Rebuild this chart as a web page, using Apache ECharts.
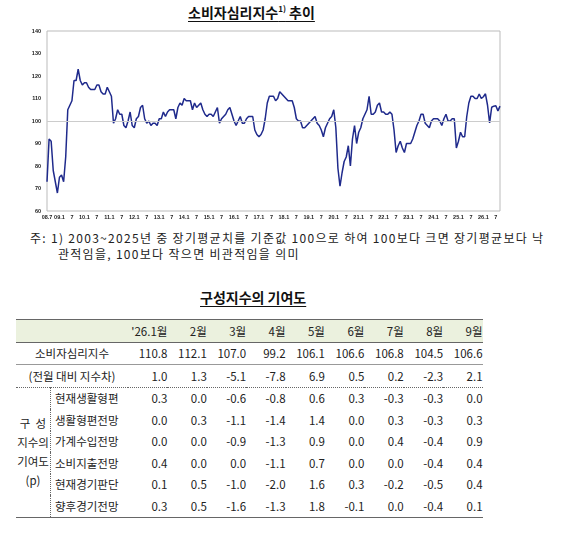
<!DOCTYPE html>
<html><head><meta charset="utf-8">
<script src="https://cdn.jsdelivr.net/npm/echarts@6/dist/echarts.min.js"></script>
<style>
body{margin:0;width:562px;height:544px;background:#fff;font-family:"Noto Sans CJK KR",sans-serif;position:relative;overflow:hidden}
#chart{position:absolute;left:0;top:0;width:562px;height:225px}
.t{position:absolute;font-weight:bold;text-decoration:underline;text-underline-offset:3px;font-size:14px;color:#111}
#note{position:absolute;left:30px;top:230px;font-size:12px;letter-spacing:1.3px;line-height:16px;color:#222;white-space:nowrap}
table{position:absolute;left:16px;top:319px;border-collapse:collapse;font-size:11.5px;color:#222}
td{height:21.5px;padding:0;text-align:right;width:39.4px}
td.l{text-align:center;width:111px}
td.s{text-align:left;padding-left:4px;width:73px}
td.g{width:34px;text-align:center;line-height:19px;border-right:1px dotted #666}
</style></head><body>
<div class="t" style="left:188px;top:2px">소비자심리지수<sup style="font-size:8px">1)</sup> 추이</div>
<div id="chart"></div>
<div id="note">주: 1) 2003~2025년 중 장기평균치를 기준값 100으로 하여 100보다 크면 장기평균보다 낙<br>&nbsp;&nbsp;&nbsp;&nbsp;&nbsp;&nbsp;&nbsp;관적임을, 100보다 작으면 비관적임을 의미</div>
<div class="t" style="left:200px;top:287px">구성지수의 기여도</div>
<table id="tbl"></table>
<script>
// monthly index, 2008.7 .. 2026.9
const values = [
  73, 92, 91, 78, 73, 68,
  75, 76, 73, 84, 105, 107, 109, 118, 118, 123, 118, 116,
  117, 117, 115, 114, 114, 114, 116, 116, 113, 112, 112, 115,
  113, 111, 99, 101, 105, 103, 103, 98, 97, 100, 104, 98,
  97, 101, 102, 106, 107, 101, 99, 100, 98, 99, 99, 98,
  101, 101, 104, 102, 104, 105, 105, 105, 101, 106, 108, 107,
  110, 109, 109, 109, 105, 108, 106, 107, 108, 105, 103, 102,
  103, 103, 102, 104, 106, 99, 101, 102, 103, 105, 106, 103,
  100, 98, 100, 102, 99, 99, 101, 102, 102, 102, 96, 94,
  93, 94, 96, 101, 108, 111, 111, 111, 109, 110, 113, 112,
  111, 110, 109, 109, 109, 106, 101, 100, 100, 97, 97, 98,
  99, 100, 101, 102, 99, 98, 96, 93, 97, 99, 101, 102,
  105, 97, 79, 71, 77, 82, 84, 89, 80, 92, 98, 90,
  95, 97, 101, 103, 105, 111, 103, 103, 104, 107, 108, 104,
  104, 103, 103, 104, 103, 96, 86, 89, 91, 88, 86, 90,
  90, 90, 92, 95, 98, 100, 103, 103, 99, 98, 97, 100,
  101, 101, 101, 100, 98, 101, 103, 100, 100, 101, 101, 88,
  91, 95, 93, 93, 102, 108, 111, 111, 110, 110, 112, 110,
  110.8, 112.1, 107.0, 99.2, 106.1, 106.6, 106.8, 104.5, 106.6
];
const months = [];
for (let i = 0; i < values.length; i++) {
  const m = (6 + i) % 12 + 1, y = 8 + Math.floor((6 + i) / 12);
  months.push({ y, m });
}
const categories = months.map((d, i) =>
  i === 0 ? "08.7" : d.m === 1 ? String(d.y).padStart(2, "0") + ".1" : String(d.m));

const tableHeader = ["'26.1월", "2월", "3월", "4월", "5월", "6월", "7월", "8월", "9월"];
const indexRow = ["110.8", "112.1", "107.0", "99.2", "106.1", "106.6", "106.8", "104.5", "106.6"];
const diffRow = ["1.0", "1.3", "-5.1", "-7.8", "6.9", "0.5", "0.2", "-2.3", "2.1"];
const subNames = ["현재생활형편", "생활형편전망", "가계수입전망", "소비지출전망", "현재경기판단", "향후경기전망"];
const subRows = [
  ["0.3", "0.0", "-0.6", "-0.8", "0.6", "0.3", "-0.3", "-0.3", "0.0"],
  ["0.0", "0.3", "-1.1", "-1.4", "1.4", "0.0", "0.3", "-0.3", "0.3"],
  ["0.0", "0.0", "-0.9", "-1.3", "0.9", "0.0", "0.4", "-0.4", "0.9"],
  ["0.4", "0.0", "0.0", "-1.1", "0.7", "0.0", "0.0", "-0.4", "0.4"],
  ["0.1", "0.5", "-1.0", "-2.0", "1.6", "0.3", "-0.2", "-0.5", "0.4"],
  ["0.3", "0.5", "-1.6", "-1.3", "1.8", "-0.1", "0.0", "-0.4", "0.1"]
];

const myChart = echarts.init(document.getElementById("chart"));
myChart.setOption({
  animation: false,
  grid: { left: 47, right: 62, top: 31, bottom: 14, show: true, borderColor: "#bbb", borderWidth: 1 },
  xAxis: {
    type: "category", data: categories, boundaryGap: false,
    axisLine: { show: false }, axisTick: { show: false },
    axisLabel: {
      fontSize: 5.5, color: "#222", margin: 3, fontWeight: "bold",
      interval: (i) => i === 0 || months[i].m === 1 || months[i].m === 7
    }
  },
  yAxis: {
    type: "value", min: 60, max: 140, interval: 10,
    splitLine: { show: false },
    axisLabel: { fontSize: 5.5, color: "#222", margin: 6, fontWeight: "bold" },
    axisLine: { show: false }
  },
  series: [{
    type: "line", data: values, symbol: "none",
    lineStyle: { color: "#1f2a8c", width: 1.5 },
    markLine: {
      silent: true, symbol: "none", label: { show: false },
      lineStyle: { color: "#ccc", type: "solid", width: 1 },
      data: [{ yAxis: 100 }]
    }
  }]
});

// Table
const tbl = document.getElementById("tbl");
let html = '<tr style="background:#ebf1de;border-top:1.5px solid #666;border-bottom:1px solid #666"><td class="l" colspan="2"></td>' +
  tableHeader.map(h => "<td>" + h + "</td>").join("") + "</tr>";
html += '<tr style="border-bottom:1px solid #999"><td class="l" colspan="2">소비자심리지수</td>' + indexRow.map(v => "<td>" + v + "</td>").join("") + "</tr>";
html += '<tr style="border-bottom:1px dotted #666"><td class="l" colspan="2">(전월 대비 지수차)</td>' + diffRow.map(v => "<td>" + v + "</td>").join("") + "</tr>";
subNames.forEach((n, i) => {
  html += "<tr" + (i === subNames.length - 1 ? ' style="border-bottom:1.5px solid #666"' : "") + ">" +
    (i === 0 ? '<td class="g" rowspan="6">구&nbsp;&nbsp;성<br>지수의<br>기여도<br>(p)</td>' : "") +
    '<td class="s">' + n + "</td>" + subRows[i].map(v => "<td>" + v + "</td>").join("") + "</tr>";
});
tbl.innerHTML = html;
</script>
</body></html>
